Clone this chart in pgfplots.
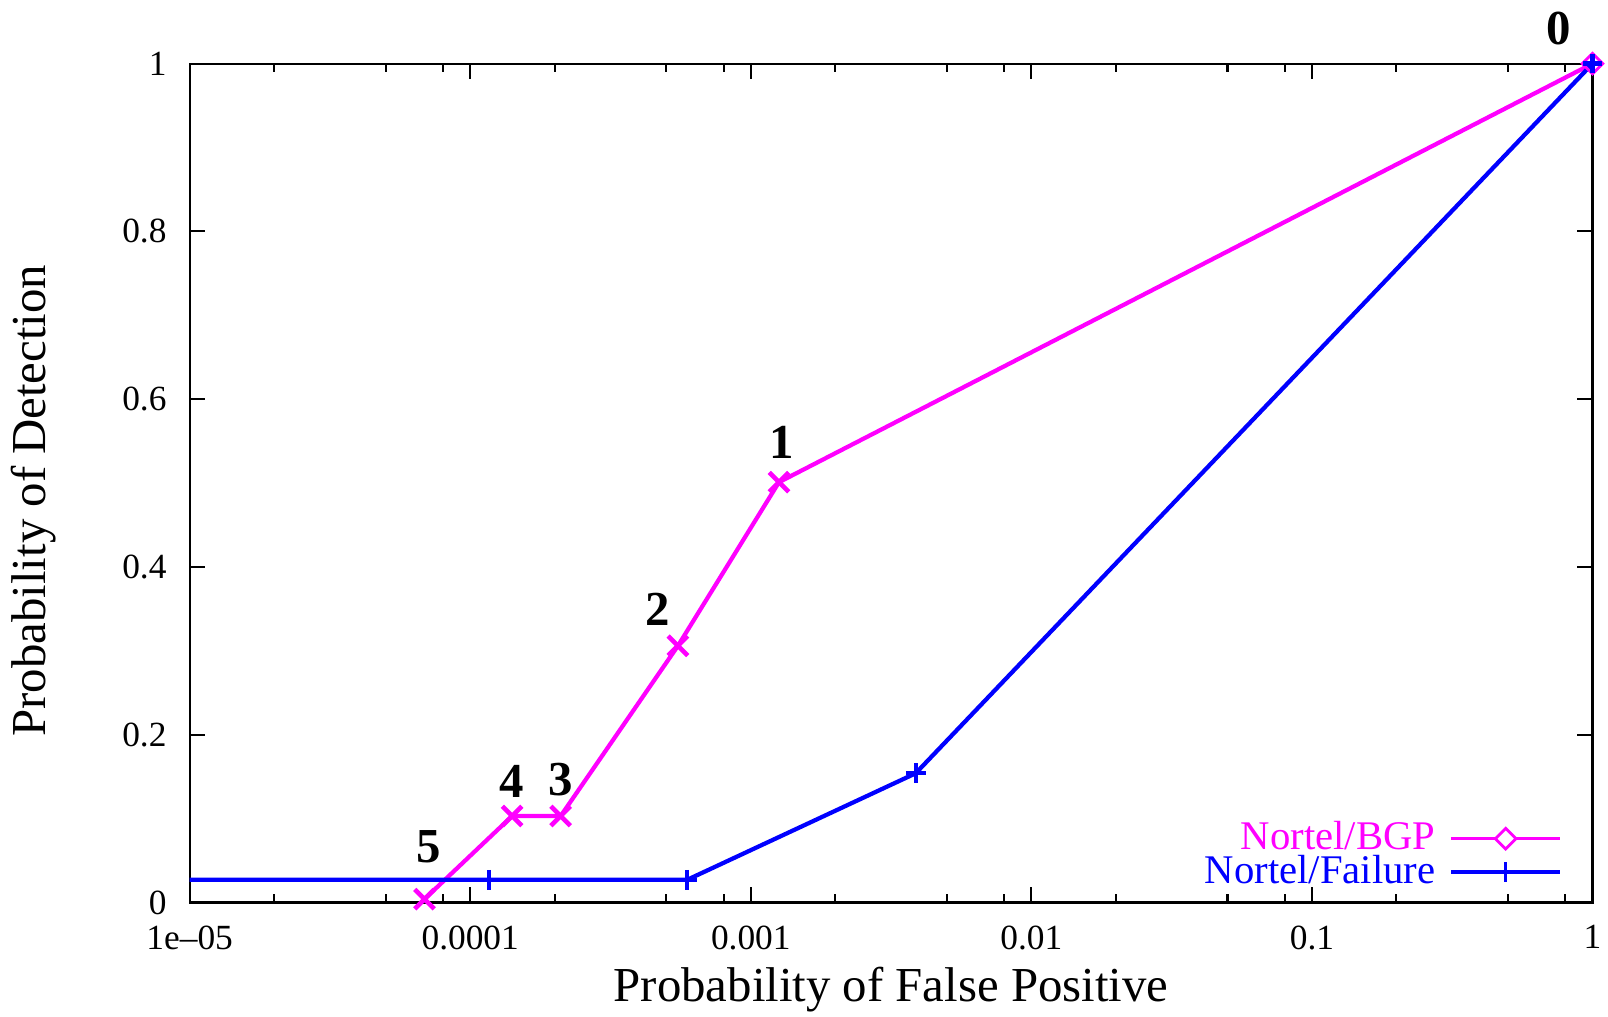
\documentclass[border=0pt]{standalone}
\usepackage{fontspec}
\setmainfont{Liberation Serif}
\usepackage{pgfplots}
\pgfplotsset{compat=1.18}
\definecolor{pk}{RGB}{255,0,255}
\definecolor{bl}{RGB}{0,0,255}
\begin{document}
\begin{tikzpicture}
\begin{axis}[
  scale only axis, width=396.5pt, height=237.1pt,
  xmode=log, xmin=1e-5, xmax=1, ymin=0, ymax=1,
  clip=false,
  xtick={1e-5,1e-4,1e-3,1e-2,1e-1,1},
  xticklabels={1e--05,0.0001,0.001,0.01,0.1,1},
  minor xtick={2e-5,5e-5,8e-5,2e-4,5e-4,8e-4,2e-3,5e-3,8e-3,2e-2,5e-2,8e-2,2e-1,5e-1,8e-1},
  ytick={0,0.2,0.4,0.6,0.8,1},
  yticklabels={0,0.2,0.4,0.6,0.8,1},
  minor ytick={},
  tick align=inside,
  major tick length=4.4pt, minor tick length=2.3pt,
  tick style={black, line width=0.6pt},
  axis line style={line width=0.6pt},
  ticklabel style={font=\fontsize{10}{12}\selectfont},
  xticklabel style={yshift=-3pt, inner xsep=0pt},
  yticklabel style={xshift=-3pt},
  xlabel={Probability of False Positive},
  ylabel={Probability of Detection},
  label style={font=\fontsize{13.8}{16}\selectfont, inner sep=0pt},
  xlabel style={at={(axis description cs:0.5,-0.1039)}, anchor=center},
  ylabel style={at={(axis description cs:-0.111,0.479)}, anchor=center},
  legend plot pos=right,
  legend cell align=right,
  legend image code/.code={\draw[mark repeat=2,mark phase=2,#1] plot coordinates {(0cm,0cm) (0.54cm,0cm) (1.08cm,0cm)};},
  legend style={draw=none, fill=none, at={(rel axis cs:1,0)}, anchor=south east,
    xshift=-8.5pt, yshift=3.6pt, inner sep=0pt,
    font=\fontsize{11.5}{13}\selectfont,
    nodes={inner ysep=0pt, inner xsep=2pt, text height=7.8pt, text depth=1.7pt},
    row sep=0pt, column sep=2pt},
]
% bounding box of the reference image
\path (axis description cs:-0.1352,-0.1357) rectangle (axis description cs:1.0110,1.0758);

% Nortel/BGP
\addplot[pk, line width=1.2pt, no marks, forget plot] coordinates {
  (0.0000687,0.004) (0.000141,0.103) (0.000210,0.103) (0.00055,0.306) (0.00126,0.501) (1,1)};
\addplot[pk, line width=1.3pt, only marks, mark=x, mark size=3.9pt, forget plot] coordinates {
  (0.0000687,0.004) (0.000141,0.103) (0.000210,0.103) (0.00055,0.306) (0.00126,0.501)};
\addplot[pk, line width=0.8pt, only marks, mark=square, mark options={rotate=45}, mark size=2.05pt, forget plot] coordinates {(1,1)};

% Nortel/Failure
\addplot[bl, line width=1.2pt, no marks, forget plot] coordinates {
  (0.00001,0.027) (0.000117,0.027) (0.000593,0.027) (0.00387,0.154) (1,1)};
\addplot[bl, line width=1.2pt, only marks, mark=+, mark size=2.8pt, forget plot] coordinates {
  (0.000117,0.027) (0.000593,0.027) (0.00387,0.154) (1,1)};

\addlegendimage{pk, line width=1.0pt, mark=square*, mark options={rotate=45, fill=white, line width=0.8pt}, mark size=2.05pt}
\addlegendentry{\textcolor{pk}{Nortel/BGP}}
\addlegendimage{bl, line width=1.0pt, mark=+, mark size=2.8pt}
\addlegendentry{\textcolor{bl}{Nortel/Failure}}

% point labels
\begin{scope}[every node/.style={font=\bfseries\fontsize{13.8}{16}\selectfont, inner sep=0pt}]
\node at (axis cs:0.757,1.0416) {0};
\node at (axis cs:0.001285,0.548) {1};
\node at (axis cs:0.000464,0.350) {2};
\node at (axis cs:0.000210,0.147) {3};
\node at (axis cs:0.000141,0.144) {4};
\node at (axis cs:0.0000711,0.066) {5};
\end{scope}
\end{axis}
\end{tikzpicture}
\end{document}
